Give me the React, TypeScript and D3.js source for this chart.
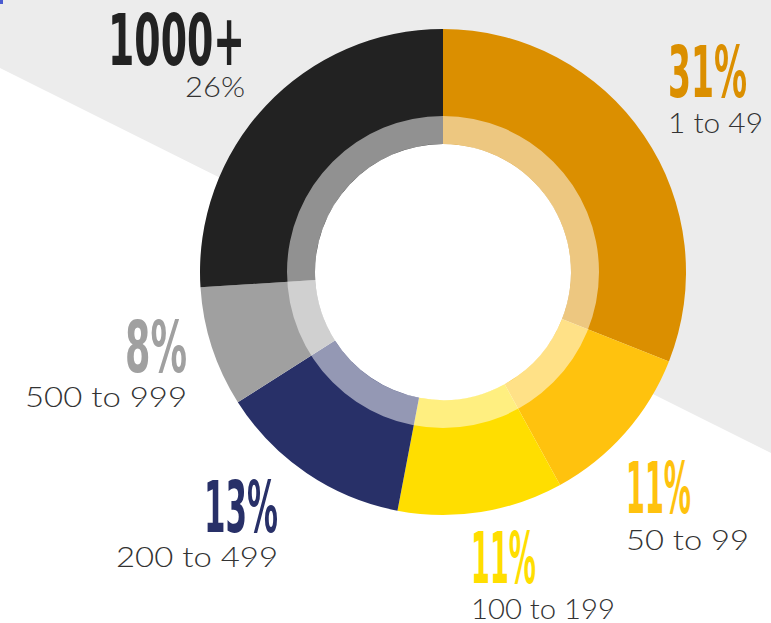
import React from "react";
import * as d3 from "d3";

const categories = ["1 to 49", "50 to 99", "100 to 199", "200 to 499", "500 to 999", "1000+"];
const shares = [31, 11, 11, 13, 8, 26];
const sliceColors = ["#DB8F00", "#FFC20E", "#FFDE00", "#283068", "#A0A0A0", "#222222"];

// label layout (big text, small text), per category
const labelLayout = [
  { x: 668, anchor: "start", bigY: 97, smallY: 133, bigW: 79, smallW: 95 },
  { x: 626, anchor: "start", bigY: 513, smallY: 550, bigW: 65, smallW: 123 },
  { x: 471, anchor: "start", bigY: 583, smallY: 619, bigW: 65, smallW: 144 },
  { x: 278, anchor: "end", bigY: 532, smallY: 567, bigW: 74, smallW: 162 },
  { x: 187, anchor: "end", bigY: 372, smallY: 407, bigW: 62, smallW: 162 },
  { x: 245, anchor: "end", bigY: 65, smallY: 97, bigW: 137, smallW: 60 },
];

const W = 771;
const H = 623;
const cx = 443;
const cy = 272;
const rOuter = 243;
const rInner = 128;
const rRing = 156;

export default function App() {
  const pie = d3.pie<number>().sort(null).value((d) => d).startAngle(0).endAngle(2 * Math.PI);
  const arcs = pie(shares);
  const arcGen = d3.arc<d3.PieArcDatum<number>>().innerRadius(rInner).outerRadius(rOuter);
  const ringPath = d3.arc()({ innerRadius: rInner, outerRadius: rRing, startAngle: 0, endAngle: 2 * Math.PI }) as string;

  const bigFont = "'Liberation Sans Narrow', 'DejaVu Sans Condensed', sans-serif";
  const smallFont = "Lato, 'Open Sans', Roboto, sans-serif";

  return (
    <svg width={W} height={H} style={{ position: "absolute", left: 0, top: 0 }} xmlns="http://www.w3.org/2000/svg">
      <rect x={0} y={0} width={W} height={H} fill="#ffffff" />
      <polygon points={`0,0 ${W},0 ${W},453 0,68`} fill="#ECECEC" />
      <rect x={0} y={0} width={3} height={4} fill="#4A5BD0" />
      <g transform={`translate(${cx},${cy})`}>
        <circle r={rInner} fill="#ffffff" />
        {arcs.map((a, i) => (
          <path key={i} d={arcGen(a) as string} fill={sliceColors[i]} />
        ))}
        <path d={ringPath} fill="#ffffff" fillOpacity={0.5} />
      </g>
      {categories.map((c, i) => {
        const L = labelLayout[i];
        const isTop = c === "1000+";
        const big = isTop ? c : `${shares[i]}%`;
        const small = isTop ? `${shares[i]}%` : c;
        return (
          <g key={c}>
            <text
              x={L.x}
              y={L.bigY}
              textAnchor={L.anchor as any}
              fontFamily={bigFont}
              fontWeight={700}
              fontSize={71}
              fill={sliceColors[i]}
              textLength={L.bigW}
              lengthAdjust="spacingAndGlyphs"
            >
              {big}
            </text>
            <text
              x={L.x}
              y={L.smallY}
              textAnchor={L.anchor as any}
              fontFamily={smallFont}
              fontWeight={300}
              fontSize={28}
              fill="#333333"
              textLength={L.smallW}
              lengthAdjust="spacingAndGlyphs"
            >
              {small}
            </text>
          </g>
        );
      })}
    </svg>
  );
}
